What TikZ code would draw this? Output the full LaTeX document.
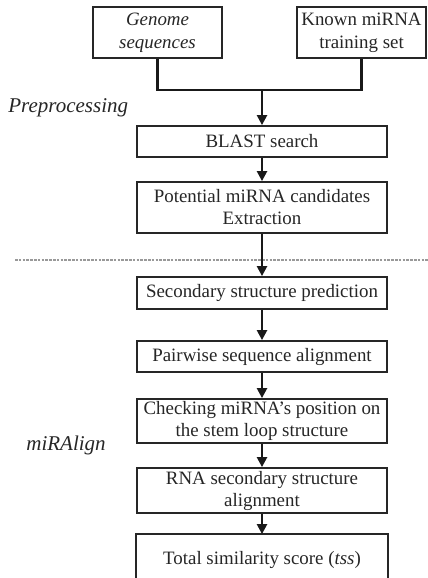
\documentclass[tikz,border=0pt]{standalone}
\usepackage{fontspec}
\setmainfont{Liberation Serif}
\usetikzlibrary{arrows.meta}
\begin{document}
\begin{tikzpicture}[x=0.5pt,y=-0.5pt,
  box/.style={draw=black!85, line width=0.9pt, inner sep=0pt, align=center,
    font=\fontsize{9.45}{11}\selectfont, text=black!85},
  mainbox/.style={box, minimum width=125pt},
  flow/.style={draw=black!90, line width=1.15pt, -{Triangle[length=5pt,width=5pt]}},
  plain/.style={draw=black!90, line width=1.15pt},
  lbl/.style={font=\fontsize{10.5}{12}\selectfont\itshape, text=black!85, inner sep=0pt}]
\clip (0,0) rectangle (428,578);
\fill[white] (0,0) rectangle (428,578);

\node[box, minimum width=64.5pt, minimum height=25.5pt, font=\fontsize{9.45}{11.7}\selectfont\itshape] (genome) at (157.5,32.5) {Genome\\sequences};
\node[box, minimum width=64.5pt, minimum height=25.5pt, font=\fontsize{9.45}{11.7}\selectfont] (known) at (361.5,32.5) {Known miRNA\\training set};
\coordinate (join) at (262,90);

\node[lbl, anchor=west] (pre) at (8,108) {Preprocessing};
\node[mainbox, minimum height=15.5pt] (blast) at (262,141.5) {BLAST search};
\node[mainbox, minimum height=25.5pt] (pot) at (262,207.5) {Potential miRNA candidates\\Extraction};

\coordinate (dl) at (15,260);
\coordinate (dr) at (428,260);
\draw[gray!80, line width=0.7pt, dash pattern=on 1.3pt off 0.6pt] (dl) -- (dr);

\node[mainbox, minimum height=16pt] (sec) at (262,293) {Secondary structure prediction};
\node[mainbox, minimum height=15.5pt] (pair) at (262,356.5) {Pairwise sequence alignment};
\node[mainbox, minimum height=22pt] (check) at (262,421) {Checking miRNA’s position on\\the stem loop structure};
\node[lbl, anchor=west] (mir) at (26,445) {miRAlign};
\node[mainbox, minimum height=22.5pt] (rna) at (262,490.5) {RNA secondary structure\\alignment};
\node[box, draw=none, minimum width=125pt, minimum height=25pt] (tot) at (262,560) {Total similarity score (\textit{tss})};
\draw[black!85, line width=0.9pt] (tot.south west) -- (tot.north west) -- (tot.north east) -- (tot.south east);

\draw[plain] (genome.south) -- (genome.south |- join) -- (known.south |- join) -- (known.south);
\draw[flow] (join) -- (blast.north);
\draw[flow] (blast) -- (pot);
\draw[flow] (pot) -- (sec);
\draw[flow] (sec) -- (pair);
\draw[flow] (pair) -- (check);
\draw[flow] (check) -- (rna);
\draw[flow] (rna) -- (tot.north);
\end{tikzpicture}
\end{document}
